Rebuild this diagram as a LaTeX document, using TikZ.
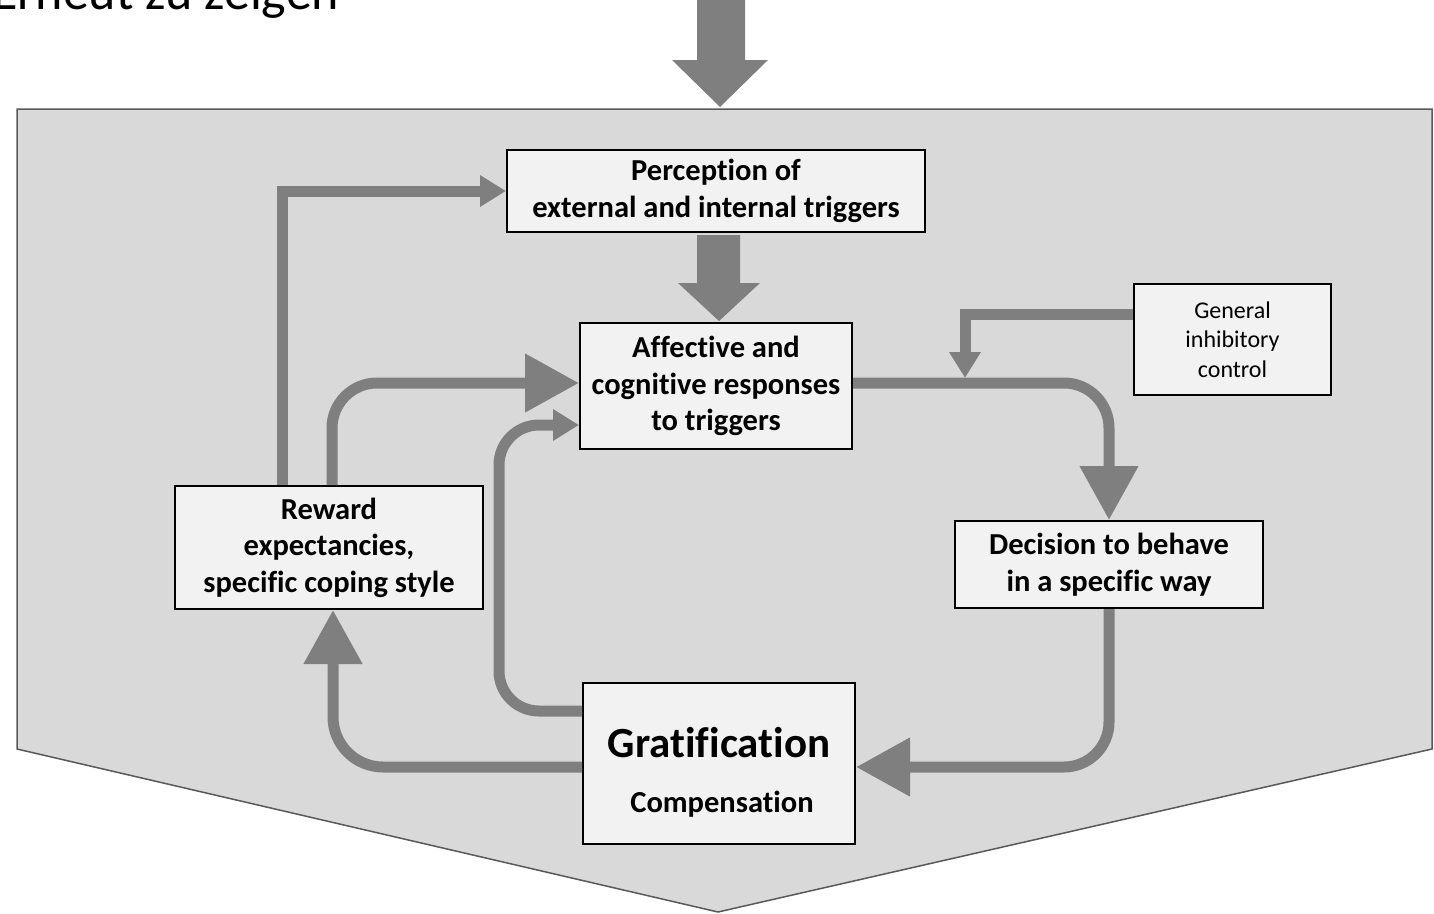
\documentclass[tikz,border=0pt]{standalone}
\usepackage{fontspec}
\setmainfont[Ligatures={NoCommon}]{Carlito}
\usetikzlibrary{arrows.meta,calc}
\definecolor{bgfill}{HTML}{D9D9D9}
\definecolor{boxfill}{HTML}{F2F2F2}
\definecolor{arrowgray}{HTML}{7F7F7F}
\tikzset{
  boxnode/.style={draw=black, line width=2pt, fill=boxfill, inner sep=0pt, align=center,
    font=\bfseries\fontsize{30.5}{36.5}\selectfont},
  conn/.style={draw=arrowgray, line width=11pt},
  bighead/.style={-{Triangle[length=54pt,width=56pt]}},
  smallhead/.style={-{Triangle[length=26pt,width=30pt]}},
  bigarrow/.style={fill=arrowgray, draw=none},
}
\begin{document}
\begin{tikzpicture}[x=1pt,y=-1pt]
\useasboundingbox (0,0) rectangle (1434,913);
\clip (0,0) rectangle (1434,913);
% cut-off title
\node[anchor=base west, inner sep=0pt, font=\fontsize{52}{58}\selectfont] (title) at (-8,9) {Erneut zu zeigen};
% background pentagon
\draw[fill=bgfill, draw=black!65, line width=1.5pt] (17,109) -- (1432,109) -- (1432,749) -- (718,912) -- (17,749) -- cycle;
% top big arrow
\fill[bigarrow] (697,-5) -- (745,-5) -- (745,60) -- (768,60) -- (720,107) -- (672,60) -- (697,60) -- cycle;
% boxes
\node[boxnode, minimum width=418pt, minimum height=82pt] (perc) at (716,191) {Perception of\\external and internal triggers};
\node[boxnode, minimum width=272pt, minimum height=126pt] (aff) at (716,386) {Affective and\\cognitive responses\\to triggers};
\node[boxnode, minimum width=197pt, minimum height=111pt, font=\fontsize{24}{29.5}\selectfont] (gen) at (1232.5,339.5) {General\\inhibitory\\control};
\node[boxnode, minimum width=308pt, minimum height=123pt] (rew) at (329,547.5) {Reward\\expectancies,\\specific coping style};
\node[boxnode, minimum width=308pt, minimum height=87pt] (dec) at (1109,564.5) {Decision to behave\\in a specific way};
\node[boxnode, minimum width=272pt, minimum height=161pt] (grat) at (719,763.5) {};
\node[font=\bfseries\fontsize{43}{48}\selectfont, inner sep=0pt] (gratA) at (719,743) {Gratification};
\node[font=\bfseries\fontsize{30.5}{34}\selectfont, inner sep=0pt] (gratB) at (722,804) {Compensation};
% big arrow perception -> affective
\fill[bigarrow] ($(perc.south)+(-19,2)$) -- ($(perc.south)+(24,2)$) -- ($(perc.south)+(24,50)$) -- ($(perc.south)+(44,50)$) -- ($(aff.north)+(3,-1)$) -- ($(perc.south)+(-38,50)$) -- ($(perc.south)+(-19,50)$) -- cycle;
% connectors
\coordinate (rewA) at ($(rew.north west)+(108,0)$);
\coordinate (rewB) at ($(rew.north west)+(158,0)$);
\draw[conn, smallhead] (rewA) |- (perc.west);
\draw[conn, bighead, rounded corners=45pt] (rewB) |- ($(aff.west)+(0,-3)$);
\coordinate (gratL) at ($(grat.north west)+(0,29)$);
\draw[conn, smallhead, rounded corners=40pt] (gratL) -- ++(-83,0) |- ($(aff.west)+(0,39)$);
\draw[conn, bighead, rounded corners=45pt] ($(aff.east)+(0,-3)$) -| (dec.north);
\coordinate (inhib) at (965,378);
\draw[conn, smallhead] ($(gen.west)+(0,-25.5)$) -| (inhib);
\coordinate (gratR) at ($(grat.east)+(0,3.5)$);
\draw[conn, bighead, rounded corners=45pt] (dec.south) |- (gratR);
\coordinate (gratW) at ($(grat.west)+(0,3.5)$);
\draw[conn, bighead, rounded corners=50pt] (gratW) -| ($(rew.south)+(4,0)$);
\end{tikzpicture}
\end{document}
